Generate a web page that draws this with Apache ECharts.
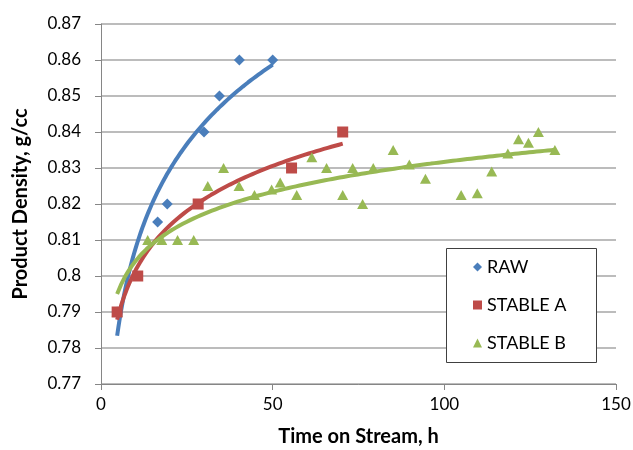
<!DOCTYPE html>
<html>
<head>
<meta charset="utf-8">
<script src="https://cdn.jsdelivr.net/npm/echarts@6/dist/echarts.min.js"></script>
<style>html,body{margin:0;padding:0;background:#fff}#c{width:633px;height:450px}</style>
</head>
<body>
<div id="c"></div>
<script>
const seriesNames = ['RAW', 'STABLE A', 'STABLE B'];
const rawX = [4.7, 16.5, 19.3, 30, 34.5, 40.3, 50];
const rawY = [0.79, 0.815, 0.82, 0.84, 0.85, 0.86, 0.86];
const stableAX = [4.7, 10.7, 28.3, 55.5, 70.4];
const stableAY = [0.79, 0.80, 0.82, 0.83, 0.84];
const stableBX = [4.7, 13.6, 17.7, 22.3, 27, 31.1, 35.7, 40.2, 44.7, 49.7, 52.2, 57, 61.4, 65.7, 70.4, 73.3, 76.2, 79.3, 85.1, 89.8, 94.5, 104.9, 109.6, 113.8, 118.5, 121.6, 124.5, 127.4, 132.2];
const stableBY = [0.79, 0.81, 0.81, 0.81, 0.81, 0.825, 0.83, 0.825, 0.8225, 0.824, 0.826, 0.8225, 0.833, 0.83, 0.8225, 0.83, 0.82, 0.83, 0.835, 0.831, 0.827, 0.8225, 0.823, 0.829, 0.834, 0.838, 0.837, 0.84, 0.835];
const xMin = 0, xMax = 150, xInterval = 50;
const yMin = 0.77, yMax = 0.87, yInterval = 0.01;
const xTitle = 'Time on Stream, h';
const yTitle = 'Product Density, g/cc';

const colors = ['#4A7EBB', '#BE4B48', '#98B954'];
const symbols = ['diamond', 'rect', 'triangle'];
const symbolSizes = [[11, 11], [11, 11], [11, 10]];
const markerZ = [6, 7, 5];

function pairs(xs, ys) { return xs.map((x, i) => [x, ys[i]]); }
// logarithmic least-squares trendline, y = a ln(x) + b, sampled over the data's x range
function logTrend(xs, ys) {
  const n = xs.length;
  const lx = xs.map(Math.log);
  const mx = lx.reduce((s, v) => s + v, 0) / n;
  const my = ys.reduce((s, v) => s + v, 0) / n;
  let sxx = 0, sxy = 0;
  for (let i = 0; i < n; i++) { sxx += (lx[i] - mx) ** 2; sxy += (lx[i] - mx) * (ys[i] - my); }
  const a = sxy / sxx, b = my - a * mx;
  const lo = Math.min(...xs), hi = Math.max(...xs);
  const pts = [];
  const N = 120;
  for (let k = 0; k <= N; k++) {
    const x = lo + (hi - lo) * k / N;
    pts.push([x, a * Math.log(x) + b]);
  }
  return pts;
}

const dataSets = [pairs(rawX, rawY), pairs(stableAX, stableAY), pairs(stableBX, stableBY)];
const xsList = [rawX, stableAX, stableBX];
const ysList = [rawY, stableAY, stableBY];

const series = [];
for (let i = 0; i < 3; i++) {
  series.push({
    name: seriesNames[i] + ' trend',
    type: 'line',
    data: logTrend(xsList[i], ysList[i]),
    showSymbol: false,
    symbol: 'none',
    smooth: false,
    lineStyle: { color: colors[i], width: 4 },
    z: 2 + i * 0.1,
    silent: true,
    animation: false
  });
}
for (let i = 0; i < 3; i++) {
  series.push({
    name: seriesNames[i],
    type: 'scatter',
    data: dataSets[i],
    symbol: symbols[i],
    symbolSize: symbolSizes[i],
    itemStyle: { color: colors[i], opacity: 1 },
    z: markerZ[i],
    animation: false
  });
}

const chart = echarts.init(document.getElementById('c'), null, { renderer: 'canvas' });
chart.setOption({
  animation: false,
  backgroundColor: '#fff',
  textStyle: { fontFamily: 'Lato' },
  grid: { left: 101, right: 17, top: 24, bottom: 66, containLabel: false, outerBoundsMode: 'none' },
  xAxis: {
    type: 'value', min: xMin, max: xMax, interval: xInterval,
    name: xTitle, nameLocation: 'middle', nameGap: 43,
    nameTextStyle: { fontFamily: 'Lato', fontWeight: 'bold', fontSize: 20, color: '#000' },
    axisLine: { show: true, lineStyle: { color: '#868686', width: 1 } },
    axisTick: { show: true, inside: false, length: 6, lineStyle: { color: '#868686' } },
    axisLabel: { color: '#000', fontSize: 17, fontFamily: 'Lato', margin: 12 },
    splitLine: { show: false }
  },
  yAxis: {
    type: 'value', min: yMin, max: yMax, interval: yInterval,
    name: yTitle, nameLocation: 'middle', nameGap: 70, nameRotate: 90,
    nameTextStyle: { fontFamily: 'Lato', fontWeight: 'bold', fontSize: 20, color: '#000' },
    axisLine: { show: true, lineStyle: { color: '#868686', width: 1 } },
    axisTick: { show: true, inside: false, length: 6, lineStyle: { color: '#868686' } },
    axisLabel: { color: '#000', fontSize: 17, fontFamily: 'Lato', margin: 20,
      formatter: v => String(Math.round(v * 100) / 100) },
    splitLine: { show: true, lineStyle: { color: '#A6A6A6', width: 1.5 } }
  },
  graphic: [{
    type: 'rect', left: 446, top: 248, z: 3,
    shape: { width: 150, height: 114 },
    style: { fill: '#fff', stroke: '#404040', lineWidth: 1 }
  }],
  legend: {
    orient: 'vertical', left: 473, top: 257, z: 6,
    data: seriesNames.map((n, i) => ({ name: n, icon: symbols[i] })),
    itemWidth: 9, itemHeight: 9, itemGap: 18,
    textStyle: { fontFamily: 'Lato', fontSize: 18, color: '#000', lineHeight: 20 },
    padding: 0,
    selectedMode: false
  },
  series: series
});
</script>
</body>
</html>
